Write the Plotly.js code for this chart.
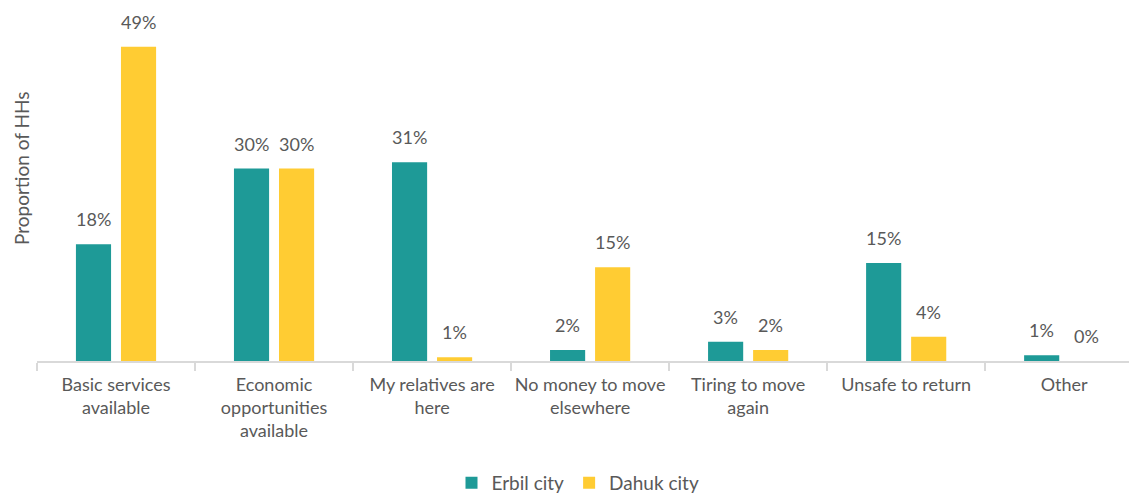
<!DOCTYPE html>
<html>
<head>
<meta charset="utf-8">
<script src="https://cdn.plot.ly/plotly-3.0.1.min.js"></script>
<style>html,body{margin:0;padding:0;background:#fff;}#chart{width:1129px;height:496px;}</style>
</head>
<body>
<div id="chart"></div>
<script>
var categories = [
  "Basic services<br>available",
  "Economic<br>opportunities<br>available",
  "My relatives are<br>here",
  "No money to move<br>elsewhere",
  "Tiring to move<br>again",
  "Unsafe to return",
  "Other"
];
var erbilValues = [18.2, 30.0, 31.0, 1.7, 3.0, 15.3, 0.9];
var dahukValues = [49.0, 30.0, 0.6, 14.6, 1.7, 3.8, 0.0];
var erbilLabels = ["18%", "30%", "31%", "2%", "3%", "15%", "1%"];
var dahukLabels = ["49%", "30%", "1%", "15%", "2%", "4%", "0%"];

var FONT = "Lato, 'Open Sans', sans-serif";
var TXT = "#595959";

var traces = [
  {type: "bar", name: "Erbil city", x: categories, y: erbilValues,
   marker: {color: "#1E9A97"}, hoverinfo: "none"},
  {type: "bar", name: "Dahuk city", x: categories, y: dahukValues,
   marker: {color: "#FFCC33"}, hoverinfo: "none"}
];

var annotations = [];
function addLabels(vals, labels, shift) {
  for (var i = 0; i < vals.length; i++) {
    annotations.push({
      x: categories[i], y: vals[i], xref: "x", yref: "y",
      text: labels[i], showarrow: false, xanchor: "center", yanchor: "bottom",
      xshift: shift, yshift: 12,
      font: {family: FONT, size: 18, color: TXT}
    });
  }
}
addLabels(erbilValues, erbilLabels, -22.5);
addLabels(dahukValues, dahukLabels, 22.5);
annotations.push({
  text: "Proportion of HHs", xref: "paper", yref: "paper",
  x: -16 / 1092, y: (361 - 168) / 320, xanchor: "center", yanchor: "middle",
  textangle: -90, showarrow: false,
  font: {family: FONT, size: 19, color: TXT}
});

var layout = {
  width: 1129, height: 496,
  margin: {l: 37, r: 0, t: 41, b: 135, autoexpand: false},
  paper_bgcolor: "#fff", plot_bgcolor: "#fff",
  font: {family: FONT, size: 18, color: TXT},
  barmode: "group", bargap: 0.43, bargroupgap: 0.22,
  showlegend: true,
  legend: {orientation: "h", x: (578 - 37) / 1092, xanchor: "center",
           yref: "container", y: (496 - 483) / 496, yanchor: "middle",
           font: {family: FONT, size: 19, color: TXT}, itemwidth: 30},
  xaxis: {
    type: "category", range: [-0.5, 6.41], fixedrange: true, automargin: false,
    showline: true, linecolor: "#d9d9d9", linewidth: 2,
    ticks: "outside", tickson: "boundaries", ticklen: 8, tickcolor: "#d9d9d9", tickwidth: 2,
    ticklabelstandoff: 6, tickangle: 0,
    tickfont: {family: FONT, size: 18, color: TXT},
    showgrid: false, zeroline: false
  },
  yaxis: {
    range: [0, 49.9], showgrid: false, zeroline: false, showline: false,
    showticklabels: false, ticks: "", fixedrange: true, automargin: false
  },
  annotations: annotations
};

Plotly.newPlot("chart", traces, layout, {displayModeBar: false, staticPlot: true});
</script>
</body>
</html>
